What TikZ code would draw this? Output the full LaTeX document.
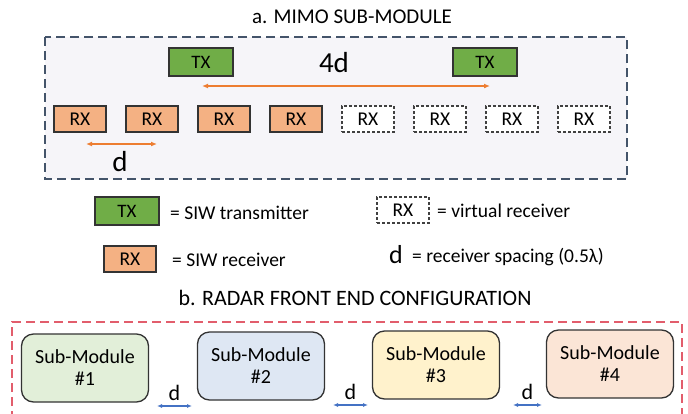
\documentclass[tikz,border=0pt]{standalone}
\usepackage{fontspec}
\setmainfont{Carlito}
\setsansfont{Carlito}
\usepackage{xcolor}
\usetikzlibrary{arrows.meta,positioning}

\definecolor{txgreen}{HTML}{70AD47}
\definecolor{rxorange}{HTML}{F4B183}
\definecolor{arrorange}{HTML}{ED7D31}
\definecolor{arrblue}{HTML}{4472C4}
\definecolor{mimogray}{HTML}{44546A}
\definecolor{mimofill}{HTML}{F6F5F9}
\definecolor{frontred}{HTML}{E25D6C}
\definecolor{smgreen}{HTML}{E2EFD9}
\definecolor{smblue}{HTML}{DEE7F3}
\definecolor{smyellow}{HTML}{FFF2CC}
\definecolor{smpeach}{HTML}{FBE5D6}

\begin{document}
\begin{tikzpicture}[
    % GLOBAL CFG
    x=1pt, y=-1pt,
    font=\sffamily,
    >={Latex[length=6pt,width=5pt]},
    % Styles
    title/.style={% For the two headings
        font=\sffamily\fontsize{21}{24}\selectfont,
        },
    tx/.style={% For the transmitters
        rectangle,
        draw=black!80,
        line width=1.4pt,
        fill=txgreen,
        minimum width=64pt,
        minimum height=28pt,
        inner sep=0pt,
        font=\sffamily\fontsize{19}{20}\selectfont,
        },
    rx/.style={% For the receivers
        rectangle,
        draw=black!80,
        line width=1.4pt,
        fill=rxorange,
        minimum width=52pt,
        minimum height=26pt,
        inner sep=0pt,
        font=\sffamily\fontsize{19.5}{20}\selectfont,
        },
    vrx/.style={% For the virtual receivers
        rx,
        fill=white,
        draw=black!75,
        dash pattern=on 3pt off 2pt,
        },
    legtext/.style={% legend texts
        anchor=west,
        inner sep=0pt,
        font=\sffamily\fontsize{19.5}{22}\selectfont,
        },
    submod/.style={% For the sub-modules
        rectangle,
        rounded corners=12pt,
        draw=black!80,
        line width=1.3pt,
        minimum width=127pt,
        minimum height=68pt,
        align=center,
        font=\sffamily\fontsize{20}{22}\selectfont,
        },
    dlab/.style={% d over the blue arrows
        midway,
        above=1pt,
        font=\sffamily\fontsize{22}{22}\selectfont,
        },
    ArrowO/.style={% orange spacing arrows
        <->,
        draw=arrorange,
        line width=2pt,
        },
    ArrowB/.style={% blue spacing arrows
        {Latex[length=5pt,width=4pt]}-{Latex[length=5pt,width=4pt]},
        draw=arrblue,
        line width=1.4pt,
        },
    ]

\useasboundingbox (0,0) rectangle (688,413);

%Start drawing the thing...
    % Headings
    \node [title] (titlea) at (352,17) {a. MIMO SUB-MODULE};
    \node [title, font=\sffamily\fontsize{22}{24}\selectfont] (titleb) at (355,298) {b. RADAR FRONT END CONFIGURATION};

    % Draw the sub-module frame
    \draw [mimogray, line width=1.8pt, dash pattern=on 9pt off 5pt, fill=mimofill] (45,37) rectangle (627,179);

    % Draw transmitters named tbox#
    \node [tx] (tbox1) at (201,62) {TX};
    \node [tx] (tbox2) at (485,62) {TX};

    % Draw receivers named rbox#
    \node [rx] (rbox1) at (80,119) {RX};
    \node [rx] (rbox2) at (152,119) {RX};
    \node [rx] (rbox3) at (224,119) {RX};
    \node [rx] (rbox4) at (296,119) {RX};
    \node [vrx] (rbox5) at (368,119) {RX};
    \node [vrx] (rbox6) at (440,119) {RX};
    \node [vrx] (rbox7) at (512,119) {RX};
    \node [vrx] (rbox8) at (584,119) {RX};

    % Spacings
    \coordinate (s4l) at (202,86);
    \coordinate (s4r) at (490,86);
    \draw [ArrowO] (s4l) -- (s4r);
    \node [font=\sffamily\fontsize{29}{30}\selectfont] (lab4d) at (334,63) {4d};

    \coordinate (s1l) at (86,144);
    \coordinate (s1r) at (157,144);
    \draw [ArrowO] (s1l) -- (s1r);
    \node [font=\sffamily\fontsize{29}{30}\selectfont] (lab1d) at (120,162) {d};

    % Legend
    \node [tx] (ltx) at (127,211) {TX};
    \node [legtext] (ltxt) at (170,213) {= SIW transmitter};
    \node [rx] (lrx) at (130,259) {RX};
    \node [legtext] (lrxt) at (172,260) {= SIW receiver};
    \node [vrx] (lvrx) at (403,210) {RX};
    \node [legtext] (lvrxt) at (437,211) {= virtual receiver};
    \node [font=\sffamily\fontsize{26}{28}\selectfont] (ld) at (396,255) {d};
    \node [legtext] (ldt) at (412,257) {= receiver spacing (0.5λ)};

    % Front end frame (runs below the page)
    \draw [frontred, line width=1.4pt, dash pattern=on 9pt off 5pt] (12,420) -- (12,322) -- (682,322) -- (682,420);

    % Sub-modules named smod#
    \node [submod, fill=smgreen] (smod1) at (85,368) {Sub-Module\\\#1};
    \node [submod, fill=smblue] (smod2) at (261,366) {Sub-Module\\\#2};
    \node [submod, fill=smyellow] (smod3) at (436,365) {Sub-Module\\\#3};
    \node [submod, fill=smpeach] (smod4) at (610,364) {Sub-Module\\\#4};

    % Module spacings
    \coordinate (m1r) at (157,406);
    \coordinate (m2l) at (192,406);
    \coordinate (m2r) at (333,405);
    \coordinate (m3l) at (368,405);
    \coordinate (m3r) at (513,405);
    \coordinate (m4l) at (542,405);
    \draw [ArrowB] (m1r) -- (m2l) node[dlab] (d12) {d};
    \draw [ArrowB] (m2r) -- (m3l) node[dlab] (d23) {d};
    \draw [ArrowB] (m3r) -- (m4l) node[dlab] (d34) {d};

\end{tikzpicture}
\end{document}
